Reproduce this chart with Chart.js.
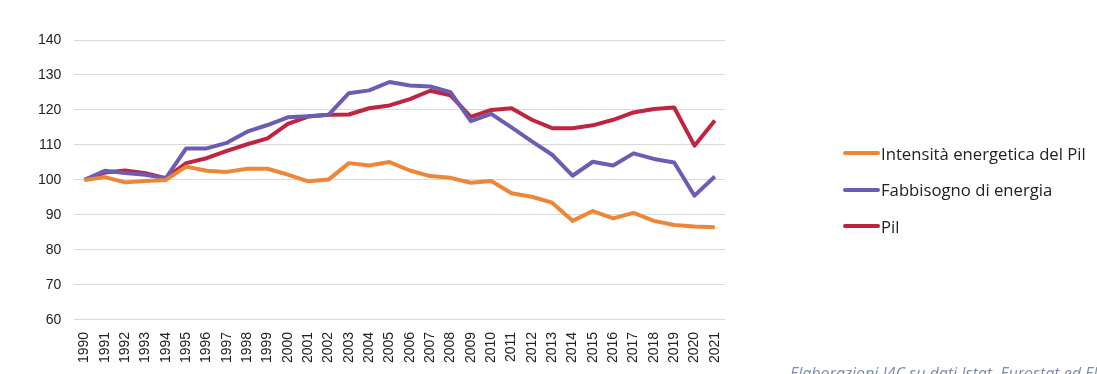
<!DOCTYPE html>
<html>
<head>
<meta charset="utf-8">
<script src="https://cdn.jsdelivr.net/npm/chart.js@4"></script>
<style>
  html, body { margin: 0; padding: 0; background: #fff; overflow: hidden; }
  #wrap { position: relative; width: 1097px; height: 374px; overflow: hidden; }
  #legend { position: absolute; left: 843px; top: 135px; font-family: "Open Sans", Lato, sans-serif; font-size: 16.7px; color: #222; }
  .item { display: flex; align-items: center; height: 36.5px; }
  .item span.sw { width: 37px; height: 4px; border-radius: 2px; margin-right: 1px; }
  #note { position: absolute; left: 790px; top: 362px; font-family: "Open Sans", Lato, sans-serif; font-style: italic; font-size: 16px; color: #7d8aa8; white-space: nowrap; }
</style>
</head>
<body>
<div id="wrap">
  <canvas id="myChart" width="1097" height="374"></canvas>
  <div id="legend"></div>
  <div id="note">Elaborazioni I4C su dati Istat, Eurostat ed ENEA</div>
</div>
<script>
//Years
const years = ['1990','1991','1992','1993','1994','1995','1996','1997','1998','1999','2000','2001','2002','2003','2004','2005','2006','2007','2008','2009','2010','2011','2012','2013','2014','2015','2016','2017','2018','2019','2020','2021'];
//Series
const intensita = [100,100.8,99.3,99.7,100,103.8,102.6,102.3,103.2,103.2,101.5,99.6,100.1,104.8,104.1,105.1,102.7,101.1,100.6,99.2,99.7,96.2,95.2,93.5,88.3,91.1,89,90.6,88.3,87.1,86.7,86.5];
const fabbisogno = [100,102.6,102,101.5,100.5,109,109,110.6,113.8,115.7,117.9,118.2,118.6,124.8,125.6,128,127,126.7,125.1,116.8,118.9,115,111,107.2,101.2,105.2,104.1,107.6,106,105,95.5,101];
const pil = [100,102.1,102.7,101.9,100.5,104.8,106.2,108.3,110.2,111.9,116,118.1,118.6,118.7,120.5,121.3,123.1,125.5,124.2,118,120,120.5,117.2,114.8,114.8,115.6,117.2,119.3,120.3,120.7,109.8,117];
const yTicks = [60,70,80,90,100,110,120,130,140];

const names = ['Intensità energetica del Pil','Fabbisogno di energia','Pil'];
const colors = ['#ee8638','#6b5db4','#bf2440'];

const info = {
    labels: years,
    datasets: [intensita, fabbisogno, pil].map((d, i) => ({
        label: names[i],
        data: d,
        borderColor: colors[i],
        backgroundColor: colors[i],
        borderWidth: 4,
        pointRadius: 0,
        tension: 0,
        borderJoinStyle: 'round'
    }))
}

const options = {
    responsive: false,
    animation: false,
    layout: { padding: { left: 25, top: 40, right: 372, bottom: 7 } },
    scales: {
        x: {
            offset: true,
            grid: { display: false },
            border: { display: false },
            ticks: {
                color: '#222',
                font: { family: '"Liberation Sans", Arial, sans-serif', size: 14 },
                maxRotation: 90, minRotation: 90,
                autoSkip: false,
                padding: 4
            }
        },
        y: {
            min: 60, max: 140,
            afterBuildTicks: (axis) => { axis.ticks = yTicks.map(v => ({ value: v })); },
            grid: { color: '#d9d9d9', lineWidth: 1, drawTicks: false },
            border: { display: false },
            ticks: {
                color: '#222',
                font: { family: '"Liberation Sans", Arial, sans-serif', size: 14 },
                padding: 13
            }
        }
    },
    plugins: {
        legend: { display: false },
        tooltip: { enabled: false }
    }
}

const config = {
    type: 'line',
    data: info,
    options
}
const myChart = new Chart(document.getElementById('myChart'), config)

//Legend
const legend = document.getElementById('legend');
names.forEach((n, i) => {
    const item = document.createElement('div');
    item.className = 'item';
    item.innerHTML = '<span class="sw" style="background:' + colors[i] + '"></span><span>' + n + '</span>';
    legend.appendChild(item);
});
</script>
</body>
</html>
